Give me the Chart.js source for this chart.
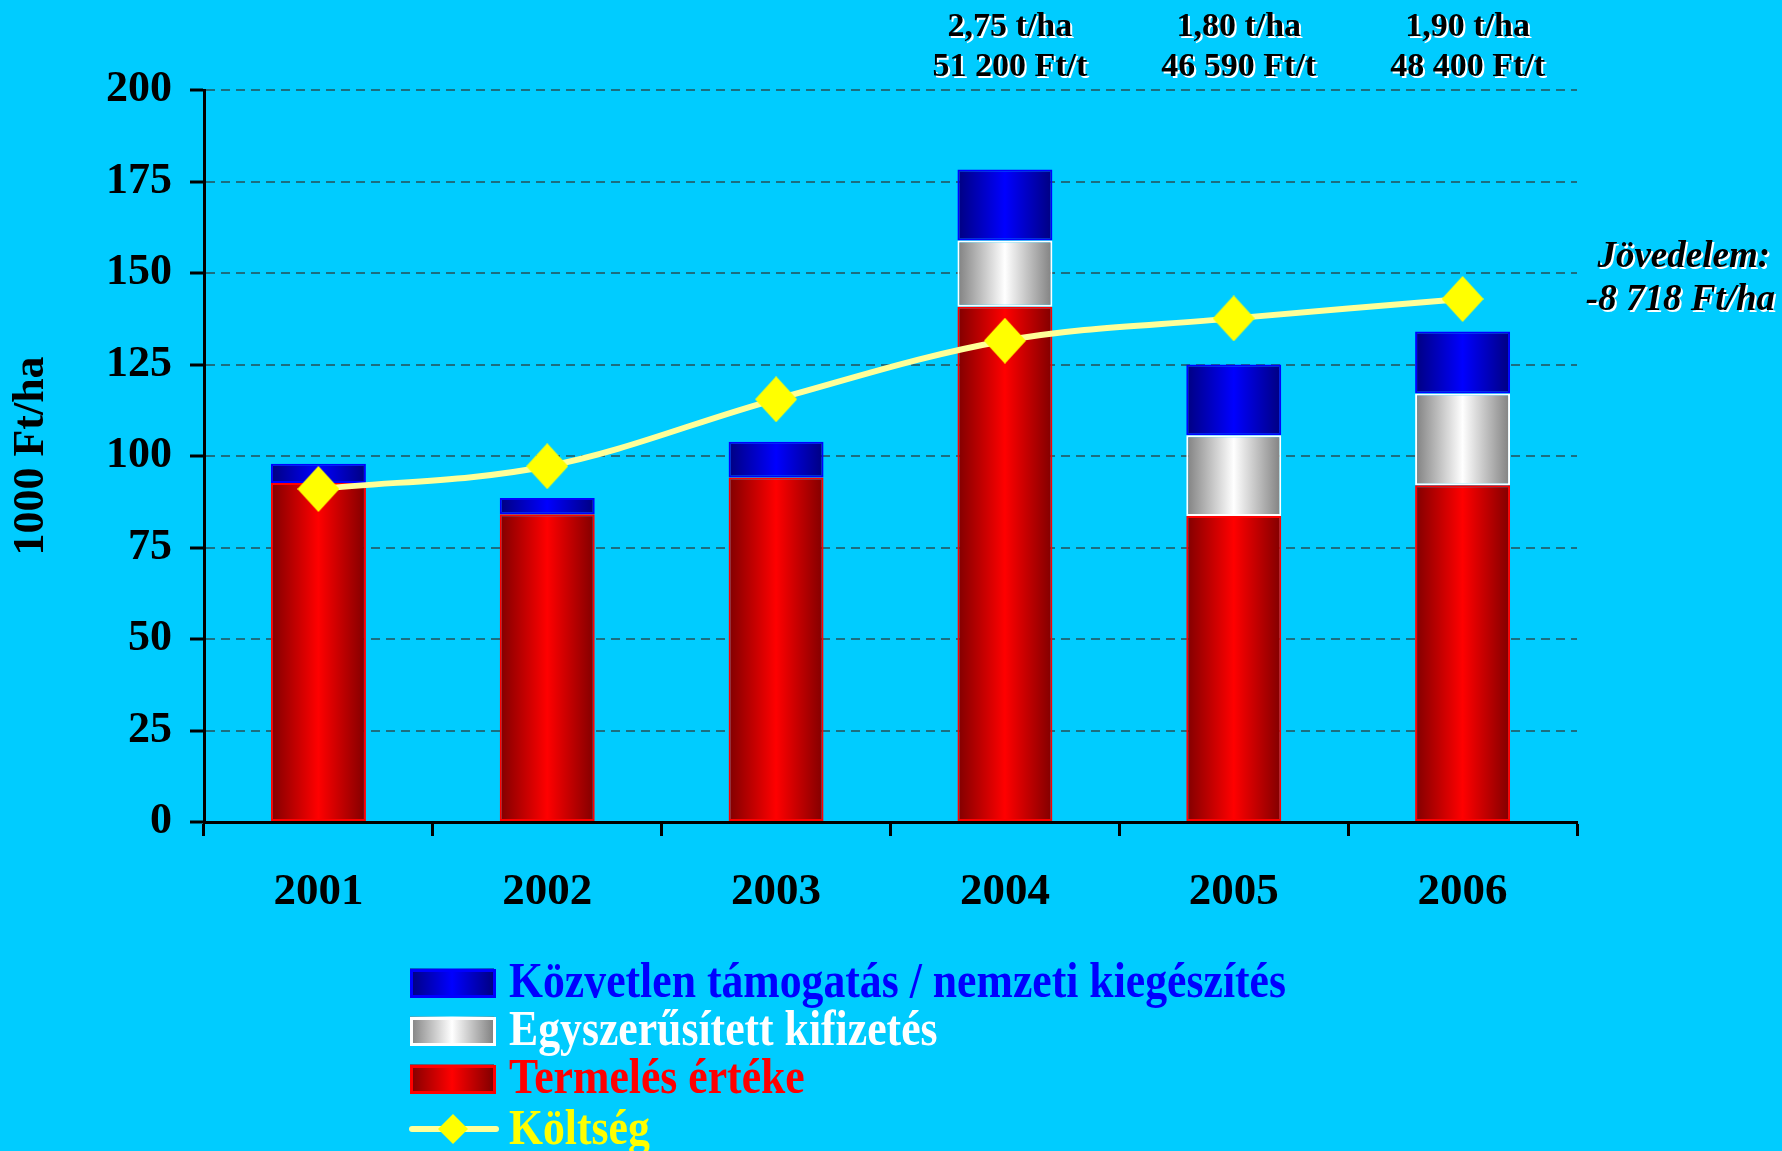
<!DOCTYPE html>
<html>
<head>
<meta charset="utf-8">
<script src="https://cdn.jsdelivr.net/npm/chart.js@4.4.0/dist/chart.umd.min.js"></script>
<style>
    html, body { margin: 0; padding: 0; background: #00CCFF; }
    canvas { display: block; }
</style>
</head>
<body>
<canvas id="chart" width="1782" height="1151"></canvas>
<script>
const YEARS      = ['2001', '2002', '2003', '2004', '2005', '2006'];
const TERMELES   = [92.6, 84.1, 94.1, 140.8, 83.6, 92.0];
const EGYSZERU   = [null, null, null, 18.1, 22.1, 25.1];
const KOZVETLEN  = [5.3, 4.4, 9.8, 19.4, 19.3, 16.9];
const KOLTSEG    = [91.0, 97.2, 115.5, 131.5, 137.6, 142.9];
const Y_TICKS    = [0, 25, 50, 75, 100, 125, 150, 175, 200];

const NOTE_YIELD = [null, null, null, '2,75 t/ha', '1,80 t/ha', '1,90 t/ha'];
const NOTE_PRICE = [null, null, null, '51 200 Ft/t', '46 590 Ft/t', '48 400 Ft/t'];
const INCOME     = ['Jövedelem:', '-8 718 Ft/ha'];

const LEGEND = [
    { label: 'Közvetlen támogatás / nemzeti kiegészítés', text: '#0000FF', dark: '#000080', bright: '#0000FF', border: '#0000FF' },
    { label: 'Egyszerűsített kifizetés',                  text: '#FFFFFF', dark: '#808080', bright: '#FFFFFF', border: '#FFFFFF' },
    { label: 'Termelés értéke',                           text: '#FF0000', dark: '#800000', bright: '#FF0000', border: '#FF0000' },
    { label: 'Költség',                                   text: '#FFFF00', line: '#FFFF99', marker: '#FFFF00' }
];

const FONT    = 'Liberation Serif';
const BAR_PCT = 0.415;
const GRID    = '#1C6E80';

function diamond(w, h, color) {
    const c = document.createElement('canvas');
    c.width = w;
    c.height = h;
    const x = c.getContext('2d');
    x.fillStyle = color;
    x.beginPath();
    x.moveTo(w / 2, 0);
    x.lineTo(w, h / 2);
    x.lineTo(w / 2, h);
    x.lineTo(0, h / 2);
    x.closePath();
    x.fill();
    return c;
}

function barFill(dark, bright) {
    return (c) => {
        const xs = c.chart.scales.x;
        if (!xs || !c.chart.chartArea || c.dataIndex === undefined) return bright;
        const cx = xs.getPixelForValue(c.dataIndex);
        const w = (xs.width / YEARS.length) * BAR_PCT;
        if (!isFinite(cx) || !isFinite(w) || w <= 0) return bright;
        const g = c.chart.ctx.createLinearGradient(cx - w / 2, 0, cx + w / 2, 0);
        g.addColorStop(0, dark);
        g.addColorStop(0.5, bright);
        g.addColorStop(1, dark);
        return g;
    };
}

function shadowText(ctx, text, x, y) {
    ctx.fillStyle = '#FFFFFF';
    ctx.fillText(text, x + 2, y + 2);
    ctx.fillStyle = '#000000';
    ctx.fillText(text, x, y);
}

const notesPlugin = {
    id: 'notes',
    afterDraw(chart) {
        const ctx = chart.ctx;
        const xs = chart.scales.x;
        ctx.save();
        ctx.textAlign = 'center';
        ctx.textBaseline = 'middle';
        ctx.font = `bold 34px "${FONT}"`;
        YEARS.forEach((_, i) => {
            if (!NOTE_YIELD[i]) return;
            const x = xs.getPixelForValue(i) + 5;
            shadowText(ctx, NOTE_YIELD[i], x, 27);
            shadowText(ctx, NOTE_PRICE[i], x, 67);
        });

        ctx.textAlign = 'right';
        ctx.font = `italic bold 37px "${FONT}"`;
        shadowText(ctx, INCOME[0], 1770, 257);
        shadowText(ctx, INCOME[1], 1775, 300);
        ctx.restore();
    }
};

const legendPlugin = {
    id: 'sideLegend',
    afterDraw(chart) {
        const ctx = chart.ctx;
        const boxX = 410, boxW = 84, boxH = 27, textX = 509;
        const rows = [982, 1030, 1078, 1129];
        ctx.save();
        ctx.font = `bold 50px "${FONT}"`;
        ctx.textBaseline = 'middle';
        const squeeze = 777 / ctx.measureText(LEGEND[0].label).width;

        LEGEND.forEach((item, i) => {
            const y = rows[i];
            if (item.line) {
                ctx.strokeStyle = item.line;
                ctx.lineWidth = 6;
                ctx.lineCap = 'round';
                ctx.beginPath();
                ctx.moveTo(boxX + 2, y);
                ctx.lineTo(boxX + boxW + 2, y);
                ctx.stroke();
                ctx.drawImage(diamond(30, 30, item.marker), boxX + boxW / 2 - 14, y - 15);
            } else {
                const g = ctx.createLinearGradient(boxX, 0, boxX + boxW, 0);
                g.addColorStop(0, item.dark);
                g.addColorStop(0.5, item.bright);
                g.addColorStop(1, item.dark);
                ctx.fillStyle = g;
                ctx.fillRect(boxX, y - boxH / 2, boxW, boxH);
                ctx.strokeStyle = item.border;
                ctx.lineWidth = 3;
                ctx.strokeRect(boxX + 1.5, y - boxH / 2 + 2, boxW - 1, boxH - 1);
            }
            ctx.save();
            ctx.translate(textX, y + 2);
            ctx.scale(squeeze, 1);
            ctx.fillStyle = item.text;
            ctx.fillText(item.label, 0, 0);
            ctx.restore();
        });
        ctx.restore();
    }
};

const barDataset = (label, data, item) => ({
    type: 'bar',
    label,
    data,
    order: 1,
    backgroundColor: barFill(item.dark, item.bright),
    borderColor: item.border,
    borderWidth: 2,
    borderSkipped: false,
    categoryPercentage: 1,
    barPercentage: BAR_PCT
});

new Chart(document.getElementById('chart').getContext('2d'), {
    data: {
        labels: YEARS,
        datasets: [
            barDataset(LEGEND[2].label, TERMELES, LEGEND[2]),
            barDataset(LEGEND[1].label, EGYSZERU, LEGEND[1]),
            barDataset(LEGEND[0].label, KOZVETLEN, LEGEND[0]),
            {
                type: 'line',
                label: LEGEND[3].label,
                data: KOLTSEG,
                order: 0,
                stack: 'cost',
                borderColor: LEGEND[3].line,
                borderWidth: 6,
                tension: 0.35,
                pointStyle: diamond(42, 46, LEGEND[3].marker),
                pointRadius: 22
            }
        ]
    },
    options: {
        responsive: false,
        animation: false,
        devicePixelRatio: 1,
        layout: { padding: { top: 90, right: 205, left: 0, bottom: 0 } },
        plugins: {
            legend: { display: false },
            tooltip: { enabled: false }
        },
        scales: {
            x: {
                stacked: true,
                offset: true,
                grid: {
                    offset: true,
                    drawOnChartArea: false,
                    drawTicks: true,
                    tickLength: 14,
                    tickColor: '#000000',
                    tickWidth: 3
                },
                border: { color: '#000000', width: 3 },
                ticks: {
                    color: '#000000',
                    padding: 29,
                    font: { family: FONT, size: 45, weight: 'bold' }
                },
                afterFit: (s) => { s.height = 329; }
            },
            y: {
                stacked: true,
                min: Y_TICKS[0],
                max: Y_TICKS[Y_TICKS.length - 1],
                afterBuildTicks: (s) => { s.ticks = Y_TICKS.map((v) => ({ value: v })); },
                ticks: {
                    color: '#000000',
                    padding: 18,
                    font: { family: FONT, size: 44, weight: 'bold' }
                },
                grid: {
                    color: (c) => (c.tick && c.tick.value === 0 ? 'rgba(0,0,0,0)' : GRID),
                    lineWidth: 2,
                    tickColor: '#000000',
                    tickWidth: 3,
                    tickLength: 14
                },
                border: { color: '#000000', width: 3, dash: [9, 6] },
                title: {
                    display: true,
                    text: '1000 Ft/ha',
                    color: '#000000',
                    padding: { top: 5, bottom: 0 },
                    font: { family: FONT, size: 44, weight: 'bold' }
                },
                afterFit: (s) => { s.width = 204; }
            }
        }
    },
    plugins: [notesPlugin, legendPlugin]
});
</script>
</body>
</html>
